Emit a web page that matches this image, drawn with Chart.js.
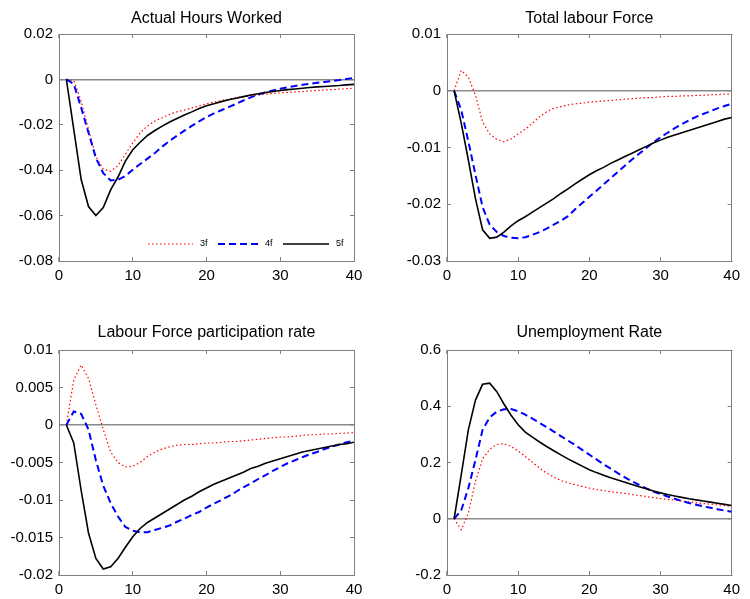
<!DOCTYPE html>
<html>
<head>
<meta charset="utf-8">
<script src="https://cdn.jsdelivr.net/npm/chart.js@4.4.0/dist/chart.umd.min.js"></script>
<style>
  body { margin: 0; background: #fff; }
  #wrap { position: relative; width: 750px; height: 599px; }
  canvas { position: absolute; }
</style>
</head>
<body>
<div id="wrap">
  <canvas id="c1" width="375" height="300" style="left:0;top:0"></canvas>
  <canvas id="c2" width="375" height="300" style="left:375px;top:0"></canvas>
  <canvas id="c3" width="375" height="299" style="left:0;top:300px"></canvas>
  <canvas id="c4" width="375" height="299" style="left:375px;top:300px"></canvas>
</div>
<script>
const seriesNames = ["3f", "4f", "5f"];
const xTicks = [0, 10, 20, 30, 40];
const periods = [1, 2, 3, 4, 5, 6, 7, 8, 9, 10, 11, 12, 13, 14, 15, 16, 17, 18, 19, 20,
  21, 22, 23, 24, 25, 26, 27, 28, 29, 30, 31, 32, 33, 34, 35, 36, 37, 38, 39, 40];

// Actual Hours Worked
const hoursTicks = [0.02, 0, -0.02, -0.04, -0.06, -0.08];
const hours3f = [0, -0.0005, -0.0095, -0.022, -0.034, -0.0395, -0.0405, -0.038, -0.033, -0.028,
  -0.0235, -0.0205, -0.0183, -0.0169, -0.0154, -0.0143, -0.0135, -0.0126, -0.0117, -0.0108,
  -0.0100, -0.0093, -0.0087, -0.0081, -0.0076, -0.0072, -0.0068, -0.0065, -0.0062, -0.0059,
  -0.0057, -0.0055, -0.0053, -0.0051, -0.0049, -0.0047, -0.0045, -0.0043, -0.0041, -0.0039];
const hours4f = [0, -0.002, -0.0124, -0.0235, -0.0346, -0.0413, -0.0445, -0.0442, -0.0425, -0.0398,
  -0.0373, -0.0349, -0.0324, -0.0296, -0.0271, -0.0248, -0.0226, -0.0205, -0.0185, -0.0166,
  -0.0150, -0.0136, -0.0122, -0.0108, -0.0093, -0.0079, -0.0067, -0.0057, -0.0049, -0.0041,
  -0.0035, -0.0029, -0.0024, -0.0019, -0.0015, -0.0011, -0.0007, -0.0003, 0.0002, 0.0007];
const hours5f = [0, -0.022, -0.044, -0.056, -0.060, -0.0565, -0.0487, -0.043, -0.036, -0.031,
  -0.0277, -0.0247, -0.0225, -0.0206, -0.0188, -0.0172, -0.0157, -0.0143, -0.0128, -0.0116,
  -0.0107, -0.0098, -0.0090, -0.0083, -0.0076, -0.0069, -0.0063, -0.0058, -0.0053, -0.0049,
  -0.0045, -0.0042, -0.0039, -0.0036, -0.0033, -0.0031, -0.0029, -0.0027, -0.0024, -0.0022];

// Total labour Force
const labourTicks = [0.01, 0, -0.01, -0.02, -0.03];
const labour3f = [0, 0.0036, 0.0024, -0.0008, -0.0055, -0.0076, -0.0086, -0.0090, -0.0085, -0.0076,
  -0.0068, -0.0057, -0.0046, -0.0037, -0.0031, -0.0028, -0.0025, -0.0023, -0.0022, -0.0020,
  -0.0019, -0.0018, -0.0017, -0.0016, -0.0015, -0.0014, -0.0013, -0.0012, -0.0012, -0.0011,
  -0.0010, -0.0010, -0.0009, -0.0009, -0.0008, -0.0008, -0.0007, -0.0007, -0.0006, -0.0006];
const labour4f = [0, -0.0034, -0.0089, -0.0148, -0.0205, -0.0236, -0.0249, -0.0256, -0.0259, -0.0260,
  -0.0258, -0.0254, -0.0249, -0.0243, -0.0236, -0.0229, -0.0221, -0.0209, -0.0198, -0.0187,
  -0.0176, -0.0165, -0.0154, -0.0143, -0.0132, -0.0121, -0.0111, -0.0101, -0.0091, -0.0082,
  -0.0074, -0.0066, -0.0059, -0.0052, -0.0046, -0.0041, -0.0036, -0.0031, -0.0027, -0.0023];
const labour5f = [0, -0.0057, -0.0122, -0.019, -0.0245, -0.026, -0.0258, -0.0249, -0.0238, -0.0229,
  -0.0222, -0.0214, -0.0206, -0.0198, -0.0190, -0.0181, -0.0173, -0.0164, -0.0156, -0.0148,
  -0.0141, -0.0135, -0.0128, -0.0122, -0.0116, -0.0110, -0.0104, -0.0098, -0.0092, -0.0087,
  -0.0082, -0.0078, -0.0074, -0.0070, -0.0066, -0.0062, -0.0058, -0.0054, -0.0050, -0.0047];

// Labour Force participation rate
const partTicks = [0.01, 0.005, 0, -0.005, -0.01, -0.015, -0.02];
const part3f = [0, 0.006, 0.008, 0.0062, 0.0027, -0.0006, -0.0036, -0.005, -0.0056, -0.0055,
  -0.005, -0.0042, -0.0036, -0.0032, -0.0029, -0.0027, -0.0026, -0.0026, -0.0025, -0.0024,
  -0.0024, -0.0023, -0.0022, -0.0022, -0.0021, -0.0020, -0.0019, -0.0018, -0.0017, -0.0016,
  -0.0016, -0.0015, -0.0014, -0.0013, -0.0013, -0.0012, -0.0012, -0.0011, -0.0011, -0.0010];
const part4f = [0, 0.0018, 0.0015, -0.0006, -0.0047, -0.0081, -0.0104, -0.0122, -0.0136, -0.0141,
  -0.0143, -0.0143, -0.0140, -0.0137, -0.0134, -0.0129, -0.0125, -0.0120, -0.0116, -0.0110,
  -0.0105, -0.0100, -0.0095, -0.0089, -0.0083, -0.0078, -0.0072, -0.0067, -0.0061, -0.0056,
  -0.0051, -0.0047, -0.0043, -0.0039, -0.0036, -0.0032, -0.0029, -0.0026, -0.0023, -0.0021];
const part5f = [0, -0.0024, -0.0087, -0.0144, -0.0178, -0.0192, -0.0189, -0.0178, -0.0163, -0.0149,
  -0.0138, -0.0130, -0.0124, -0.0118, -0.0112, -0.0106, -0.0100, -0.0095, -0.0089, -0.0084,
  -0.0079, -0.0075, -0.0071, -0.0067, -0.0063, -0.0058, -0.0055, -0.0051, -0.0048, -0.0045,
  -0.0042, -0.0039, -0.0036, -0.0034, -0.0032, -0.0030, -0.0028, -0.0026, -0.0025, -0.0023];

// Unemployment Rate
const unempTicks = [0.6, 0.4, 0.2, 0, -0.2];
const unemp3f = [0, -0.039, 0.02, 0.133, 0.213, 0.247, 0.264, 0.267, 0.257, 0.241,
  0.221, 0.201, 0.180, 0.162, 0.148, 0.136, 0.128, 0.121, 0.115, 0.109,
  0.104, 0.100, 0.096, 0.093, 0.090, 0.086, 0.083, 0.079, 0.075, 0.072,
  0.069, 0.066, 0.063, 0.060, 0.057, 0.054, 0.052, 0.049, 0.047, 0.044];
const unemp4f = [0, 0.03, 0.109, 0.209, 0.316, 0.36, 0.381, 0.389, 0.39, 0.382,
  0.37, 0.356, 0.341, 0.326, 0.31, 0.294, 0.278, 0.262, 0.245, 0.228,
  0.211, 0.194, 0.178, 0.162, 0.147, 0.133, 0.120, 0.108, 0.097, 0.088,
  0.079, 0.071, 0.063, 0.056, 0.050, 0.044, 0.039, 0.034, 0.029, 0.025];
const unemp5f = [0, 0.156, 0.316, 0.422, 0.478, 0.482, 0.452, 0.408, 0.368, 0.334,
  0.308, 0.29, 0.273, 0.257, 0.242, 0.227, 0.213, 0.2, 0.187, 0.174,
  0.164, 0.155, 0.146, 0.138, 0.130, 0.122, 0.114, 0.107, 0.099, 0.092,
  0.086, 0.081, 0.076, 0.071, 0.067, 0.063, 0.059, 0.055, 0.051, 0.047];

const AXIS_GREY = "#7f7f7f";
const ZERO_GREY = "#8a8a8a";
const FONT = "'Liberation Sans', Arial, sans-serif";

Chart.defaults.font.family = FONT;
Chart.defaults.color = "#000";

// small line-sample legend inside the plot, like the matlab one (no box)
const sampleLegend = {
  id: "sampleLegend",
  afterDatasetsDraw(chart, args, opts) {
    if (!opts.display) return;
    const { ctx, chartArea } = chart;
    const y = chartArea.bottom - 17;
    ctx.save();
    chart.data.datasets.forEach((ds, i) => {
      const x0 = chartArea.left + opts.starts[i];
      const x1 = x0 + opts.lengths[i];
      ctx.strokeStyle = ds.borderColor;
      ctx.lineWidth = ds.borderWidth;
      ctx.setLineDash(ds.borderDash || []);
      ctx.beginPath();
      ctx.moveTo(x0, y);
      ctx.lineTo(x1, y);
      ctx.stroke();
      ctx.setLineDash([]);
      ctx.fillStyle = "#000";
      ctx.font = "9px " + FONT;
      ctx.textBaseline = "middle";
      ctx.fillText(ds.label, x1 + 7, y);
    });
    ctx.restore();
  },
};

const toPoints = (vals) => periods.map((t, i) => ({ x: t, y: vals[i] }));

function boxAxis(position, min, max, ticks, size, showLabels) {
  const isZeroGrid = position === "left";
  return {
    type: "linear",
    position,
    min,
    max,
    afterBuildTicks: (s) => {
      s.ticks = ticks.map((v) => ({ value: v }));
    },
    afterFit: (s) => {
      if (position === "left" || position === "right") s.width = size;
      else s.height = size;
    },
    grid: {
      drawOnChartArea: isZeroGrid,
      color: (c) => (c.tick && c.tick.value === 0 ? ZERO_GREY : "rgba(0,0,0,0)"),
      lineWidth: (c) => (c.tick && c.tick.value === 0 ? 1.5 : 1),
      drawTicks: true,
      tickLength: -4,
      tickColor: AXIS_GREY,
      tickWidth: 1,
    },
    border: { display: true, color: AXIS_GREY, width: 1 },
    ticks: {
      display: showLabels,
      padding: 10,
      color: "#000",
      font: { size: 15 },
      maxRotation: 0,
      autoSkip: false,
      callback: (v) => String(v),
    },
  };
}

function makePanel(id, title, vals, yTicks, p) {
  const yMin = Math.min(...yTicks);
  const yMax = Math.max(...yTicks);
  const styles = [
    { borderColor: "#ff0000", borderWidth: 1.2, borderDash: [1.5, 2.5], order: 3 },
    { borderColor: "#0000ff", borderWidth: 2, borderDash: [7, 4], order: 2 },
    { borderColor: "#000000", borderWidth: 1.6, borderDash: [], order: 1 },
  ];
  return new Chart(document.getElementById(id), {
    type: "line",
    data: {
      datasets: vals.map((v, i) => ({
        label: seriesNames[i],
        data: toPoints(v),
        xAxisID: "x",
        yAxisID: "y",
        pointRadius: 0,
        tension: 0,
        fill: false,
        ...styles[i],
      })),
    },
    options: {
      responsive: false,
      animation: false,
      layout: { padding: { left: 0, right: p.rightPad, top: 0, bottom: 0 } },
      plugins: {
        legend: { display: false },
        tooltip: { enabled: false },
        title: {
          display: true,
          text: title,
          fullSize: false,
          color: "#000",
          font: { size: 16, weight: "normal", lineHeight: 1.25 },
          padding: { top: p.titleTop, bottom: p.titleBottom },
        },
        sampleLegend: {
          display: !!p.legend,
          starts: [89, 159, 224],
          lengths: [45, 40, 46],
        },
      },
      scales: {
        x: boxAxis("bottom", 0, 40, xTicks, p.bottom, true),
        x2: boxAxis("top", 0, 40, xTicks, 0, false),
        y: boxAxis("left", yMin, yMax, yTicks, p.left, true),
        y2: boxAxis("right", yMin, yMax, yTicks, 0, false),
      },
    },
    plugins: [sampleLegend],
  });
}

makePanel("c1", "Actual Hours Worked", [hours3f, hours4f, hours5f], hoursTicks,
  { left: 59, rightPad: 21, titleTop: 9, titleBottom: 5, bottom: 39, legend: true });
makePanel("c2", "Total labour Force", [labour3f, labour4f, labour5f], labourTicks,
  { left: 72, rightPad: 8, titleTop: 9, titleBottom: 5, bottom: 39 });
makePanel("c3", "Labour Force participation rate", [part3f, part4f, part5f], partTicks,
  { left: 59, rightPad: 21, titleTop: 23, titleBottom: 7, bottom: 24 });
makePanel("c4", "Unemployment Rate", [unemp3f, unemp4f, unemp5f], unempTicks,
  { left: 72, rightPad: 8, titleTop: 23, titleBottom: 7, bottom: 24 });
</script>
</body>
</html>
